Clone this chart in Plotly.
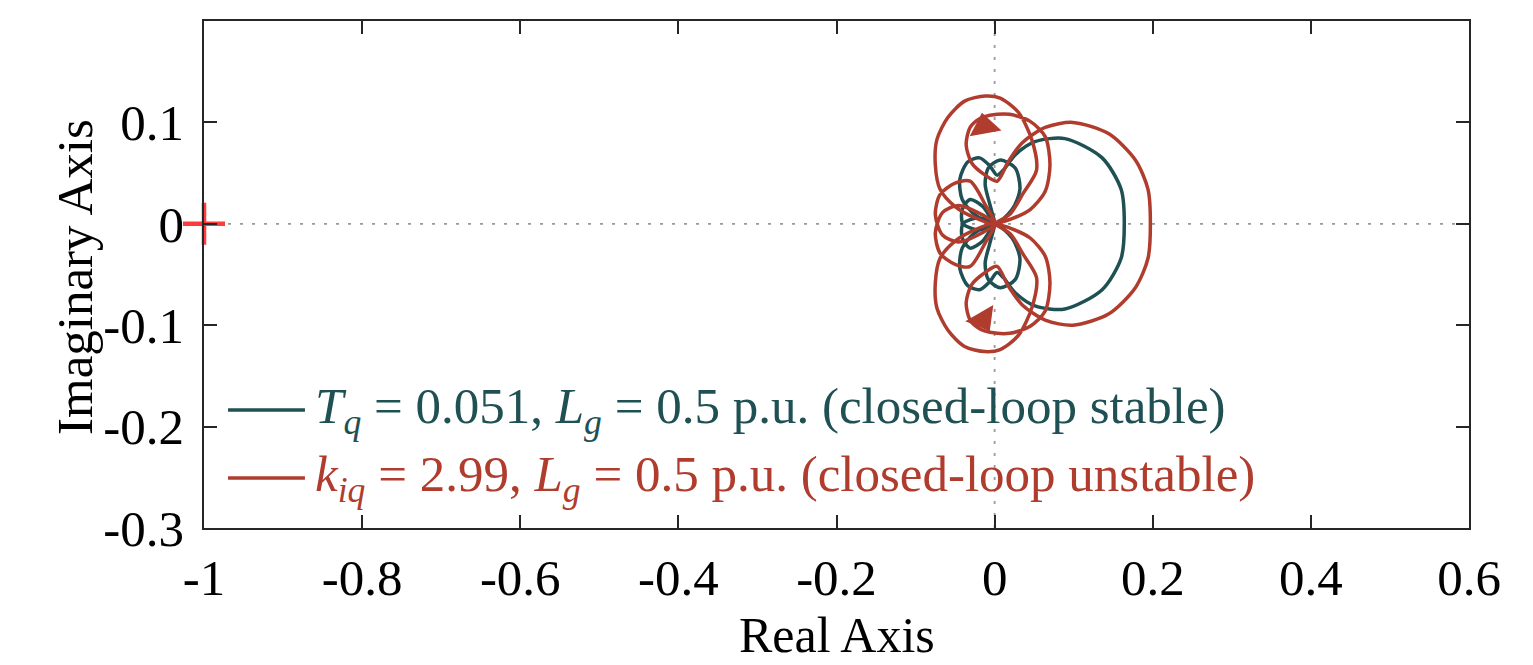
import plotly.graph_objects as go

# ---- data (Real, Imag) ----
# teal: Tq = 0.051, Lg = 0.5 p.u.  (upper half, then lower half)
teal_re_up = [0.164, 0.160, 0.136, 0.089, 0.051, 0.026, 0.011, 0.003,
              -0.006, -0.019, -0.034, -0.044, -0.041, -0.025, 0.000,
              0.022, 0.032, 0.026, 0.007, -0.008, -0.012, -0.006, 0.000,
              -0.015, -0.031, -0.041, -0.040, -0.020, 0.000]
teal_im_up = [0.000, 0.034, 0.065, 0.084, 0.081, 0.068, 0.053, 0.048,
              0.057, 0.065, 0.061, 0.044, 0.024, 0.009, 0.000,
              0.014, 0.034, 0.055, 0.063, 0.055, 0.039, 0.019, 0.000,
              0.017, 0.024, 0.014, 0.000, -0.006, 0.000]
teal_re_lo = [0.000, -0.020, -0.040, -0.041, -0.031, -0.015, 0.000,
              -0.006, -0.012, -0.008, 0.007, 0.026, 0.032, 0.022, 0.000,
              -0.025, -0.041, -0.044, -0.034, -0.019, -0.006,
              0.003, 0.011, 0.026, 0.051, 0.089, 0.136, 0.160, 0.164]
teal_im_lo = [0.000, 0.006, 0.000, -0.014, -0.024, -0.017, 0.000,
              -0.019, -0.039, -0.055, -0.063, -0.055, -0.034, -0.014, 0.000,
              -0.009, -0.024, -0.044, -0.061, -0.065, -0.057,
              -0.048, -0.053, -0.068, -0.081, -0.084, -0.065, -0.034, 0.000]

# red: kiq = 2.99, Lg = 0.5 p.u.
red_re_up = [0.197, 0.194, 0.178, 0.144, 0.099, 0.064, 0.035, 0.017, 0.003,
             -0.012, -0.029, -0.036, -0.031, -0.018, -0.006, 0.019, 0.045,
             0.064, 0.070, 0.064, 0.045, 0.022, 0.000,
             0.020, 0.036, 0.053, 0.047, 0.030, 0.007, -0.012, -0.038,
             -0.059, -0.073, -0.075, -0.069, -0.050, -0.025, 0.000,
             -0.012, -0.031, -0.050, -0.069, -0.075, -0.066, -0.046, -0.021, 0.000]
red_im_up = [0.000, 0.034, 0.063, 0.089, 0.100, 0.095, 0.080, 0.061, 0.042,
             0.048, 0.060, 0.078, 0.095, 0.104, 0.107, 0.108, 0.101,
             0.086, 0.058, 0.032, 0.014, 0.005, 0.000,
             0.010, 0.030, 0.053, 0.083, 0.110, 0.124, 0.126, 0.121,
             0.105, 0.083, 0.058, 0.034, 0.017, 0.006, 0.000,
             0.019, 0.042, 0.040, 0.029, 0.009, -0.011, -0.018, -0.011, 0.000]
red_re_lo = [0.000, -0.021, -0.046, -0.066, -0.075, -0.069, -0.050, -0.031, -0.012,
             0.000, -0.025, -0.050, -0.069, -0.075, -0.073, -0.059, -0.038,
             -0.012, 0.007, 0.030, 0.047, 0.053, 0.036, 0.020, 0.000,
             0.022, 0.045, 0.064, 0.070, 0.064, 0.045, 0.019, -0.006,
             -0.018, -0.031, -0.036, -0.029, -0.012, 0.003,
             0.017, 0.035, 0.064, 0.099, 0.144, 0.178, 0.194, 0.197]
red_im_lo = [0.000, 0.011, 0.018, 0.011, -0.009, -0.029, -0.040, -0.042, -0.019,
             0.000, -0.006, -0.017, -0.034, -0.058, -0.083, -0.105, -0.121,
             -0.126, -0.124, -0.110, -0.083, -0.053, -0.030, -0.010, 0.000,
             -0.005, -0.014, -0.032, -0.058, -0.086, -0.101, -0.108, -0.107,
             -0.104, -0.095, -0.078, -0.060, -0.048, -0.042,
             -0.061, -0.080, -0.095, -0.100, -0.089, -0.063, -0.034, 0.000]

arrow_re = [-0.013, -0.015]
arrow_im = [0.096, -0.094]
crit_re = [-1.0]
crit_im = [0.0]

x_ticks = [-1, -0.8, -0.6, -0.4, -0.2, 0, 0.2, 0.4, 0.6]
x_tick_text = ["-1", "-0.8", "-0.6", "-0.4", "-0.2", "0", "0.2", "0.4", "0.6"]
y_ticks = [-0.3, -0.2, -0.1, 0, 0.1]
y_tick_text = ["-0.3", "-0.2", "-0.1", "0", "0.1"]

TEAL = "#1F5053"
RED = "#B03C2E"
FONT = "Liberation Serif, Times New Roman, serif"

fig = go.Figure()
fig.add_trace(go.Scatter(x=teal_re_up + teal_re_lo[1:], y=teal_im_up + teal_im_lo[1:],
                         mode="lines", line=dict(color=TEAL, width=3.5, shape="spline", smoothing=0.8),
                         showlegend=False, hoverinfo="skip"))
fig.add_trace(go.Scatter(x=red_re_up + red_re_lo[1:], y=red_im_up + red_im_lo[1:],
                         mode="lines", line=dict(color=RED, width=3.5, shape="spline", smoothing=0.8),
                         showlegend=False, hoverinfo="skip"))
fig.add_trace(go.Scatter(x=arrow_re, y=arrow_im, mode="markers",
                         marker=dict(symbol=["triangle-up", "triangle-down"], angle=[-10, -30],
                                     size=28, color=RED, line=dict(width=0)),
                         showlegend=False, hoverinfo="skip"))
fig.add_trace(go.Scatter(x=crit_re, y=crit_im, mode="markers", cliponaxis=False,
                         marker=dict(symbol="cross-thin", size=30, line=dict(color="#FF3B3B", width=4.5)),
                         showlegend=False, hoverinfo="skip"))

# dotted zero lines
fig.add_shape(type="line", xref="x", yref="paper", x0=0, x1=0, y0=0, y1=1,
              line=dict(color="#999999", width=1.8, dash="3px,9px"), layer="below")
fig.add_shape(type="line", xref="paper", yref="y", x0=0, x1=1, y0=0, y1=0,
              line=dict(color="#999999", width=1.8, dash="3px,9px"), layer="below")

# legend (drawn manually)
legend_rows = [
    (0.2327, TEAL, "<i>T</i><sub><i>q</i></sub> = 0.051, <i>L</i><sub><i>g</i></sub> = 0.5 p.u. (closed-loop stable)"),
    (0.0986, RED, "<i>k</i><sub><i>iq</i></sub> = 2.99, <i>L</i><sub><i>g</i></sub> = 0.5 p.u. (closed-loop unstable)"),
]
for yy, col, txt in legend_rows:
    fig.add_shape(type="line", xref="paper", yref="paper", x0=0.019, x1=0.0798, y0=yy, y1=yy,
                  line=dict(color=col, width=3.5))
    fig.add_annotation(xref="paper", yref="paper", x=0.0862, y=yy, text=txt, showarrow=False,
                       xanchor="left", yanchor="middle", font=dict(family=FONT, size=51, color=col))

# axis titles placed as annotations
fig.add_annotation(xref="paper", yref="paper", x=-0.102, y=0.495, text="Imaginary Axis",
                   textangle=-90, showarrow=False, xanchor="center", yanchor="middle",
                   font=dict(family=FONT, size=51, color="black"))
fig.add_annotation(xref="paper", yref="paper", x=0.500, y=-0.212, text="Real Axis",
                   showarrow=False, xanchor="center", yanchor="middle",
                   font=dict(family=FONT, size=50, color="black"))

axis_common = dict(showline=True, linecolor="#262626", linewidth=1.6, mirror="ticks",
                   ticks="inside", ticklen=13, tickwidth=1.6, tickcolor="#262626",
                   showgrid=False, zeroline=False, automargin=False,
                   tickfont=dict(family=FONT, size=51, color="black"))
fig.update_xaxes(range=[-1, 0.6], tickvals=x_ticks, ticktext=x_tick_text, ticklabelstandoff=4,
                 **axis_common)
fig.update_yaxes(range=[-0.3, 0.2], tickvals=y_ticks, ticktext=y_tick_text, ticklabelstandoff=8,
                 **axis_common)
fig.update_layout(width=1533, height=665, margin=dict(l=204, r=64, t=21, b=137),
                  plot_bgcolor="white", paper_bgcolor="white", showlegend=False)
fig.write_html("out.html")
